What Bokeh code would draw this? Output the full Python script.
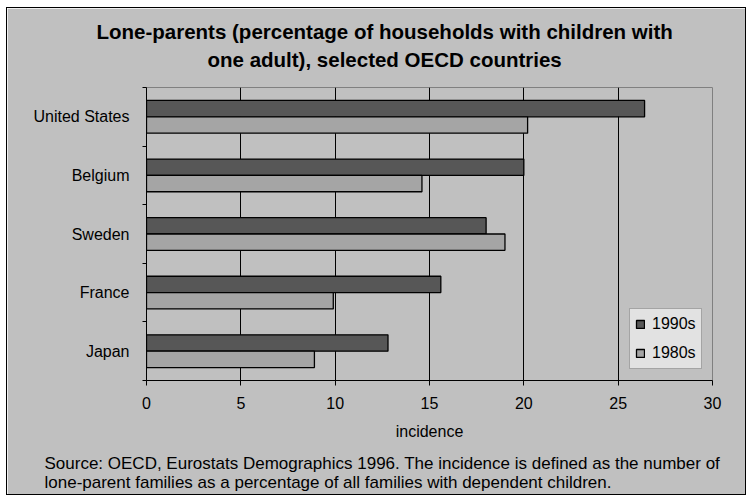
from bokeh.plotting import figure
from bokeh.models import (ColumnDataSource, FixedTicker, Legend, LegendItem, Title)
from bokeh.embed import file_html
from bokeh.resources import INLINE

# Lone-parent households (% of households with children), by country
countries = ["United States", "Belgium", "Sweden", "France", "Japan"]
v1990s = [26.4, 20.0, 18.0, 15.6, 12.8]
v1980s = [20.2, 14.6, 19.0, 9.9, 8.9]
x_ticks = [0, 5, 10, 15, 20, 25, 30]

title_lines = ["Lone-parents (percentage of households with children with",
               "one adult), selected OECD countries"]
source_lines = ["Source: OECD, Eurostats Demographics 1996. The incidence is defined as the number of",
                "lone-parent families as a percentage of all families with dependent children."]

FONT = "Liberation Sans"
BG = "#C0C0C0"
DARK = "#575757"
LIGHT = "#A5A5A5"

# chart panel sits inside a thin black frame on a white page
OX, OY = 7, 8
W, H = 738, 486
LEFT, RIGHT, TOP, BOTTOM = 139, 33, 79, 114

n = len(countries)
centers = [n - i - 0.5 for i in range(n)]   # first country on top
bar_h = 0.279

src90 = ColumnDataSource(dict(y=[c + bar_h / 2 for c in centers], v=v1990s))
src80 = ColumnDataSource(dict(y=[c - bar_h / 2 for c in centers], v=v1980s))

p = figure(width=W, height=H, output_backend="svg", toolbar_location=None,
           x_range=(0, 30), y_range=(0, n),
           min_border_left=LEFT, min_border_right=RIGHT,
           min_border_top=TOP, min_border_bottom=BOTTOM)
p.margin = (OY, 0, 0, OX)
p.styles = {"outline": "1px solid black"}
p.background_fill_color = BG
p.border_fill_color = BG
p.outline_line_color = "#808080"
p.outline_line_width = 1

r90 = p.hbar(y="y", left=0, right="v", height=bar_h, source=src90,
             fill_color=DARK, line_color="black", line_width=1.3)
r80 = p.hbar(y="y", left=0, right="v", height=bar_h, source=src80,
             fill_color=LIGHT, line_color="black", line_width=1.3)

# grid
p.ygrid.grid_line_color = None
p.xgrid.grid_line_color = "black"
p.xgrid.grid_line_width = 1

# x axis
xa = p.xaxis[0]
xa.ticker = FixedTicker(ticks=x_ticks, minor_ticks=[])
xa.axis_label = "incidence"
xa.axis_label_text_font = FONT
xa.axis_label_text_font_size = "16px"
xa.axis_label_text_font_style = "normal"
xa.axis_label_text_color = "black"
xa.axis_label_standoff = 11
xa.major_label_text_font = FONT
xa.major_label_text_font_size = "16px"
xa.major_label_text_color = "black"
xa.major_label_standoff = 11
xa.major_tick_out = 5
xa.major_tick_in = 0
xa.major_tick_line_color = "black"
xa.axis_line_color = "black"

# y axis: labels at category centres, ticks at category boundaries
ya = p.yaxis[0]
ya.ticker = FixedTicker(ticks=centers, minor_ticks=list(range(n + 1)))
ya.major_label_overrides = {c: name for c, name in zip(centers, countries)}
ya.major_tick_line_color = None
ya.major_tick_out = 0
ya.major_tick_in = 0
ya.minor_tick_line_color = "black"
ya.minor_tick_out = 4
ya.minor_tick_in = 0
ya.major_label_standoff = 13
ya.major_label_text_font = FONT
ya.major_label_text_font_size = "16px"
ya.major_label_text_color = "black"
ya.axis_line_color = "black"

legend = Legend(items=[LegendItem(label="1990s", renderers=[r90]),
                       LegendItem(label="1980s", renderers=[r80])],
                location=(483, 11), orientation="vertical",
                glyph_width=10, glyph_height=10, label_height=20, label_standoff=7,
                spacing=9, padding=5, margin=0,
                label_text_font=FONT, label_text_font_size="16px",
                label_text_color="black",
                background_fill_color="#e2e2e2", background_fill_alpha=1,
                border_line_color="#666666", border_line_width=1)
p.add_layout(legend, "center")

# two-line heading above the plot area (nearest line first); offsets are
# measured from the left edge of the plot area
for text, offset, standoff in [(title_lines[1], 61, 34), (title_lines[0], -50, -28)]:
    p.add_layout(Title(text=text, align="left", offset=offset,
                       standoff=standoff, text_font=FONT, text_font_size="20.5px",
                       text_font_style="bold", text_color="black"), "above")

# source note under the axis (nearest line first)
for text, standoff in zip(source_lines, [18, -21]):
    p.add_layout(Title(text=text, align="left", offset=(44 - OX) - LEFT,
                       standoff=standoff, text_font=FONT, text_font_size="17px",
                       text_font_style="normal", text_color="black"), "below")

open("out.html", "w").write(file_html(p, INLINE))
